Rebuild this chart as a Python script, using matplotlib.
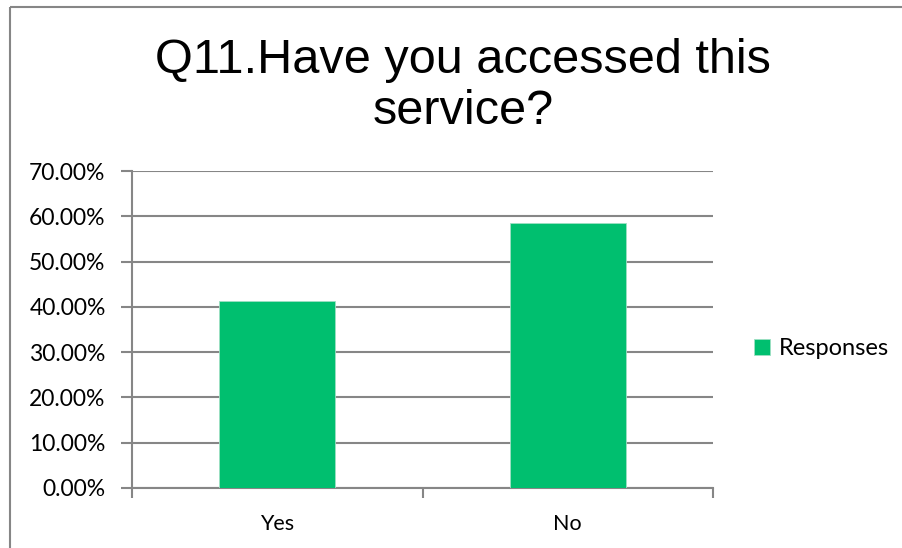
import matplotlib
matplotlib.use("Agg")
import matplotlib.pyplot as plt
from matplotlib.lines import Line2D
from matplotlib.ticker import FuncFormatter, FixedLocator

categories = ["Yes", "No"]
responses = [41.38, 58.62]
y_ticks = [0, 10, 20, 30, 40, 50, 60, 70]
series_name = "Responses"
title = "Q11.Have you accessed this\nservice?"

W, H = 903, 548
fig = plt.figure(figsize=(W / 100, H / 100), dpi=100)
fig.patch.set_facecolor("white")
fig.patch.set_edgecolor("white")
fig.patch.set_linewidth(0)

frame_color = "#868686"
# chart frame: top and left edges, drawn in pixel coordinates
frame_y = H - 7
frame_x = 10
fig.add_artist(Line2D([frame_x, W + 5], [frame_y, frame_y], transform=None,
                      color=frame_color, linewidth=1.5, solid_capstyle="butt"))
fig.add_artist(Line2D([frame_x, frame_x], [-5, frame_y], transform=None,
                      color=frame_color, linewidth=1.5, solid_capstyle="butt"))

left, right, top, bottom = 132, 713, 171, 488
ax = fig.add_axes([left / W, 1 - bottom / H, (right - left) / W, (bottom - top) / H])

grid_color = "#868686"
x = list(range(len(categories)))
ax.bar(x, responses, width=0.4, color="#00BF6F", edgecolor="#9fe0c4", linewidth=0.6,
       zorder=3, label=series_name)

ax.set_xlim(-0.5, len(categories) - 0.5)
ax.set_ylim(0, 70)
ax.set_yticks(y_ticks)
ax.yaxis.set_major_formatter(FuncFormatter(lambda v, p: f"{v:.2f}%"))
ax.grid(axis="y", color=grid_color, linewidth=1.5, zorder=0)

ax.set_xticks(x)
ax.set_xticklabels(categories)
ax.xaxis.set_minor_locator(FixedLocator([i - 0.5 for i in range(len(categories) + 1)]))
ax.tick_params(axis="x", which="major", length=0, pad=19, labelsize=15.5, labelcolor="#000000")
ax.tick_params(axis="x", which="minor", length=7, width=1.5, color=grid_color, direction="out")
ax.tick_params(axis="y", length=8, width=1.5, color=grid_color, pad=11, labelsize=16.5,
               labelcolor="#000000")
for lbl in ax.get_xticklabels() + ax.get_yticklabels():
    lbl.set_fontfamily("Lato")

for side in ["top", "right"]:
    ax.spines[side].set_visible(False)
for side in ["left", "bottom"]:
    ax.spines[side].set_color(grid_color)
    ax.spines[side].set_linewidth(1.5)

fig.text(463 / W, 1 - 86 / H, title, ha="center", va="center", fontsize=35,
         family="Liberation Sans", linespacing=1.15)

leg = fig.legend(loc="center left", bbox_to_anchor=(733 / W, 1 - 349 / H), frameon=False,
                 handlelength=0.65, handleheight=0.65, handletextpad=0.4,
                 prop={"family": "Lato", "size": 17})

fig.savefig("out.png", dpi=100)
